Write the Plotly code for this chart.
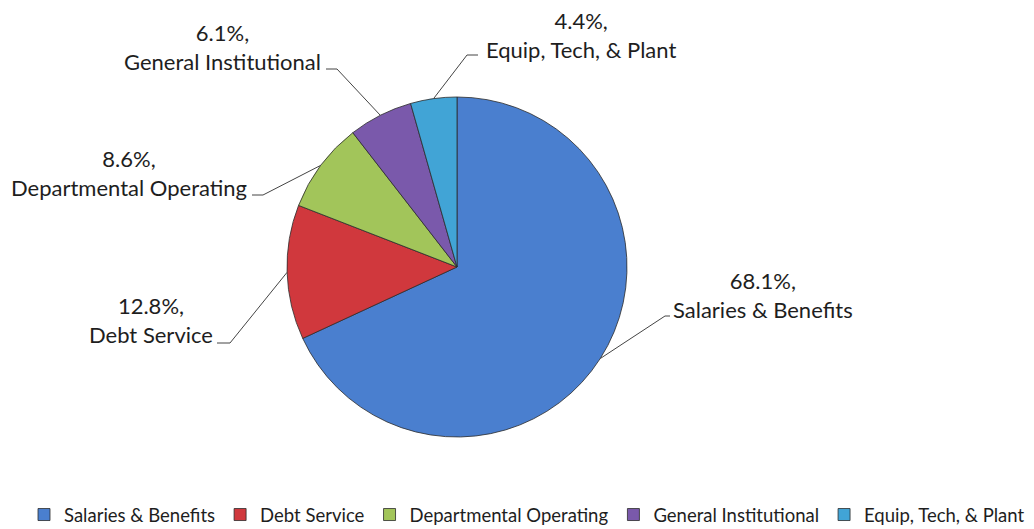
import math
import plotly.graph_objects as go

# ---- data ----
categories = ["Salaries & Benefits", "Debt Service", "Departmental Operating",
              "General Institutional", "Equip, Tech, & Plant"]
values = [68.1, 12.8, 8.6, 6.1, 4.4]
colors = ["#4a7fcf", "#d0383d", "#a2c55a", "#7a59ab", "#41a4d6"]

# ---- layout geometry (pixels) ----
W, H = 1034, 529
cx, cy, r = 457, 267, 170

# label text anchor positions (pixels, centre of 2-line block) and leader-line end points
label_pos = {
    "Salaries & Benefits": (763, 295),
    "Debt Service": (151, 320),
    "Departmental Operating": (129, 173),
    "General Institutional": (222, 47),
    "Equip, Tech, & Plant": (581, 35),
}
leader_end = {
    "Salaries & Benefits": [(670, 316), (665, 316)],
    "Debt Service": [(217, 343), (230, 343)],
    "Departmental Operating": [(252, 195), (263, 195)],
    "General Institutional": [(326, 69), (337, 69)],
    "Equip, Tech, & Plant": [(478, 55), (467, 55)],
}

def px(x):
    return x / W

def py(y):
    return 1 - y / H

fig = go.Figure()
fig.add_trace(go.Pie(
    labels=categories, values=values, sort=False, direction="clockwise",
    rotation=0, textinfo="none", hoverinfo="label+percent",
    marker=dict(colors=colors, line=dict(color="#2b2b2b", width=0.8)),
    domain=dict(x=[px(cx - r), px(cx + r)], y=[py(cy + r), py(cy - r)]),
))

label_font = dict(family="Lato, Liberation Sans, sans-serif", size=22, color="#1e1e1e")
legend_font = dict(family="Lato, Liberation Sans, sans-serif", size=18.5, color="#1e1e1e")

total = sum(values)
cum = 0.0
shapes = []
annotations = []
for cat, v in zip(categories, values):
    mid = (cum + v / 2) / total * 2 * math.pi
    cum += v
    ex = cx + r * math.sin(mid)
    ey = cy - r * math.cos(mid)
    (lx0, ly0), (lx1, ly1) = leader_end[cat]
    path = f"M {px(ex)},{py(ey)} L {px(lx1)},{py(ly1)} L {px(lx0)},{py(ly0)}"
    shapes.append(dict(type="path", xref="paper", yref="paper", path=path,
                       line=dict(color="#444444", width=1)))
    tx, ty = label_pos[cat]
    annotations.append(dict(
        x=px(tx), y=py(ty), xref="paper", yref="paper", showarrow=False,
        text=f"{v:.1f}%,<br>{cat}", align="center", font=label_font,
        xanchor="center", yanchor="middle",
    ))

fig.update_layout(
    width=W, height=H,
    margin=dict(l=0, r=0, t=0, b=0, autoexpand=False),
    paper_bgcolor="white", plot_bgcolor="white",
    shapes=shapes, annotations=annotations,
    showlegend=True,
    legend=dict(orientation="h", x=px(1030), xanchor="right", y=py(515), yanchor="middle",
                font=legend_font, itemwidth=30, traceorder="normal",
                bgcolor="rgba(0,0,0,0)"),
)

fig.write_html("out.html")
